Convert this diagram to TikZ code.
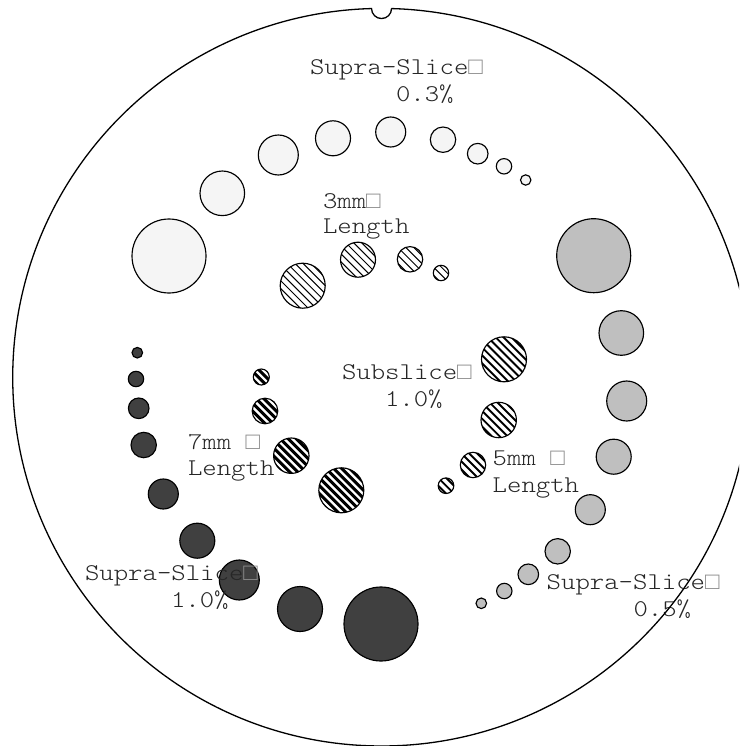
\documentclass[tikz,border=0pt]{standalone}
\usepackage{fontspec}
\setmainfont{Liberation Mono}
\newfontfamily\lblfont[FakeStretch=1.143]{Latin Modern Mono Light}
\tikzset{
  lbl/.style={anchor=base west,inner sep=0pt,outer sep=0pt,text=black!85,font=\fontsize{24}{24}\selectfont\lblfont},
  rim/.style={draw=black,line width=1.3pt},
  holeedge/.style={draw=black,line width=1.15pt},
  holelight/.style={holeedge,fill=black!4},
  holegrey/.style={holeedge,fill=black!25},
  holedark/.style={holeedge,fill=black!75}
}
\newcommand{\hatchset}[2]{%
  \foreach \x/\y/\r in {#2}{%
    \begin{scope}
      \clip (\x,\y) circle[radius=\r];
      \pgfmathsetmacro{\nbase}{round((\x-\y)/7.92)}
      \foreach \k in {-6,...,6}{%
        \pgfmathsetmacro{\c}{(\nbase+\k)*7.92}
        \draw[line width=#1] ({\x-60},{\x-60-\c}) -- ({\x+60},{\x+60-\c});
      }
    \end{scope}
    \draw[holeedge] (\x,\y) circle[radius=\r];
  }%
}
\newcommand{\boxmark}{{\fontspec{Liberation Mono}\textcolor{black!45}{□}}}
\begin{document}
\begin{tikzpicture}[x=1pt,y=-1pt]
\useasboundingbox (0,0) rectangle (739,746);
\clip (0,0) rectangle (739,746);
\fill[white] (0,0) rectangle (739,746);
% supra-slice 0.3
\foreach \x/\y/\r in {169/256/37,222.3/193.3/22.3,278.3/155/20,333/138.3/17.5,390.7/132/15,443/139.7/12.7,477.7/153.7/10.3,504/166.3/7.7,525.7/180/5.2}
  \draw[holelight] (\x,\y) circle[radius=\r];
% supra-slice 0.5
\foreach \x/\y/\r in {593.7/255.7/37,621.3/333/22.3,626.7/401/20,613.7/456.7/17.5,590.3/509.7/15,557.7/551.3/12.7,528.3/574.3/10.3,504.3/591/7.7,481.3/603.3/5.3}
  \draw[holegrey] (\x,\y) circle[radius=\r];
% supra-slice 1.0
\foreach \x/\y/\r in {381/624/37,300/609/22.5,239.3/580/20,197.3/540.7/17.5,163.3/494/15,143.7/445/12.7,138.7/408.3/10.3,136/379/7.7,137.3/352.7/5.3}
  \draw[holedark] (\x,\y) circle[radius=\r];
% subslice hatches
\hatchset{1pt}{302.7/285.7/22.5,358/259.7/17.5,410/259.3/12.7,441/273/7.7}
\hatchset{1.9pt}{504/359.3/22.5,498.7/420/17.7,473/465/12.7,446/485.7/7.8}
\hatchset{3pt}{341.3/490.3/22.5,291.3/455.7/17.7,265/411/12.8,261.3/377/8}
% labels
\node[lbl] (topa) at (310,75) {Supra-Slice\boxmark};
\node[lbl] (topb) at (396,102) {0.3\%};
\node[lbl] (lena) at (323,208) {3mm\boxmark};
\node[lbl] (lenb) at (323,233) {Length};
\node[lbl] (suba) at (342,379) {Subslice\boxmark};
\node[lbl] (subb) at (385,406) {1.0\%};
\node[lbl] (sevena) at (188,449) {7mm \boxmark};
\node[lbl] (sevenb) at (188,475.7) {Length};
\node[lbl] (fivea) at (492.7,465) {5mm \boxmark};
\node[lbl] (fiveb) at (492.7,492) {Length};
\node[lbl] (darka) at (85,580) {Supra-Slice\boxmark};
\node[lbl] (darkb) at (171,607) {1.0\%};
\node[lbl] (greya) at (546.7,589) {Supra-Slice\boxmark};
\node[lbl] (greyb) at (633.5,616) {0.5\%};
% wafer outline with notch
\draw[rim] ({381.5+368.8*cos(271.55)},{377.2+368.8*sin(271.55)})
  arc[start angle=271.55,end angle=628.45,radius=368.8]
  arc[start angle=180,end angle=0,radius=10] -- cycle;
\end{tikzpicture}
\end{document}
